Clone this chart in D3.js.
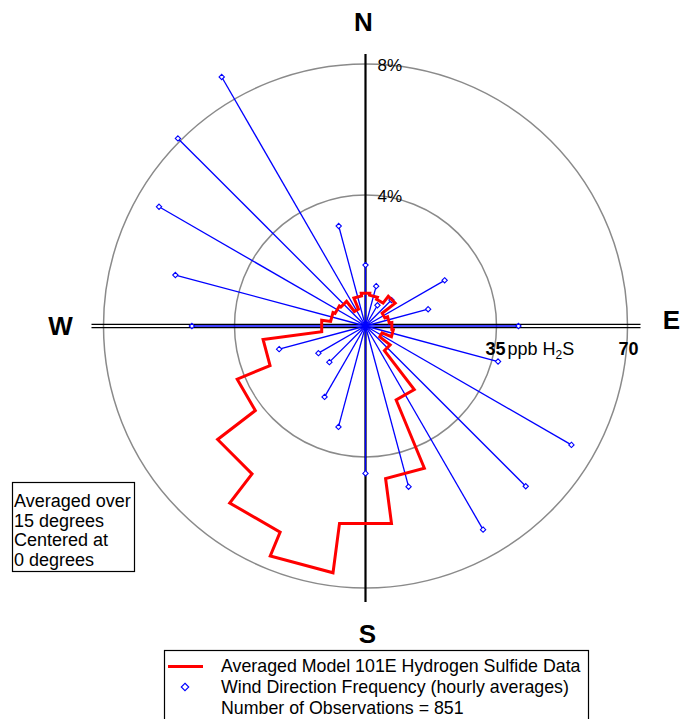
<!DOCTYPE html>
<html>
<head>
<meta charset="utf-8">
<script src="https://cdn.jsdelivr.net/npm/d3@7"></script>
<style>
  html, body { margin: 0; padding: 0; background: #fff; }
  svg { display: block; font-family: "Liberation Sans", Arial, sans-serif; }
</style>
</head>
<body>
<svg id="chart" width="680" height="719"></svg>
<script>
// Wind direction sectors (degrees, clockwise from north), 15-degree bins centred at 0
const directions = [0, 15, 30, 45, 60, 75, 90, 105, 120, 135, 150, 165,
                    180, 195, 210, 225, 240, 255, 270, 285, 300, 315, 330, 345];
// Frequency of hourly wind direction per sector (% of observations)
const windFrequency = [1.86, 1.26, 0.73, 1.12, 2.79, 1.98, 4.67, 4.19, 7.26, 6.92, 7.18, 5.08,
                       4.50, 3.19, 2.50, 1.56, 1.66, 2.73, 5.30, 6.01, 7.28, 8.10, 8.78, 3.16];
// Averaged hydrogen sulfide concentration per sector (ppb)
const h2sPpb = [8.8, 8.3, 7.7, 10.0, 5.6, 6.4, 7.1, 7.5, 4.8, 8.3, 21.4, 41.1,
                53.2, 66.5, 59.6, 49.8, 37.1, 27.6, 11.8, 9.4, 8.8, 8.3, 4.9, 8.1];
// Rings: percentage ticks and matching ppb ticks
const pctTicks = [4, 8];
const ppbTicks = [35, 70];
const compass = [
  { label: "N", angle: 0 }, { label: "E", angle: 90 },
  { label: "S", angle: 180 }, { label: "W", angle: 270 }
];
const sectorWidth = 15;
const observations = 851;

const svg = d3.select("#chart");
const cx = 365.5, cy = 326, R = 262;

const rPct = d3.scaleLinear().domain([0, 8]).range([0, R]);
const rPpb = d3.scaleLinear().domain([0, 70]).range([0, R]);
const rad = d => d * Math.PI / 180;

const g = svg.append("g").attr("transform", `translate(${cx},${cy})`);

// Range rings
g.selectAll("circle.ring").data(pctTicks).join("circle")
  .attr("class", "ring")
  .attr("r", d => rPct(d))
  .attr("fill", "none")
  .attr("stroke", "#8a8a8a")
  .attr("stroke-width", 1.5);

// Axes: single vertical line, double horizontal line
g.append("line").attr("x1", 0).attr("x2", 0).attr("y1", -272).attr("y2", 276)
  .attr("stroke", "#000").attr("stroke-width", 2.2);
[-1.6, 1.6].forEach(off => {
  g.append("line").attr("x1", -274).attr("x2", 275).attr("y1", off).attr("y2", off)
    .attr("stroke", "#000").attr("stroke-width", 1.3);
});

// Wind direction frequency rays
const rays = directions.map((d, i) => ({ dir: d, v: windFrequency[i] }));
const px = (a, r) => r * Math.sin(rad(a));
const py = (a, r) => -r * Math.cos(rad(a));

g.selectAll("line.ray").data(rays).join("line")
  .attr("class", "ray")
  .attr("x1", 0).attr("y1", 0)
  .attr("x2", d => px(d.dir, rPct(d.v)))
  .attr("y2", d => py(d.dir, rPct(d.v)))
  .attr("stroke", "#0000ff")
  .attr("stroke-width", 1.3);

const diamond = d3.symbol().type(d3.symbolDiamond2).size(18);
g.selectAll("path.tip").data(rays).join("path")
  .attr("class", "tip")
  .attr("d", diamond)
  .attr("transform", d => `translate(${px(d.dir, rPct(d.v))},${py(d.dir, rPct(d.v))})`)
  .attr("fill", "#fff")
  .attr("stroke", "#0000ff")
  .attr("stroke-width", 1.1);

// H2S sector outline: each sector drawn as a chord across its 15-degree span
const outline = [];
directions.forEach((d, i) => {
  outline.push([rad(d - sectorWidth / 2), rPpb(h2sPpb[i])]);
  outline.push([rad(d + sectorWidth / 2), rPpb(h2sPpb[i])]);
});
const radialLine = d3.lineRadial().angle(d => d[0]).radius(d => d[1]).curve(d3.curveLinearClosed);
g.append("path")
  .attr("d", radialLine(outline))
  .attr("fill", "none")
  .attr("stroke", "#ff0000")
  .attr("stroke-width", 3)
  .attr("stroke-linejoin", "miter");

// Percentage labels on the rings
g.selectAll("text.pct").data(pctTicks).join("text")
  .attr("class", "pct")
  .attr("x", 12)
  .attr("y", d => -rPct(d) + 3)
  .attr("dominant-baseline", "middle")
  .attr("font-size", 17)
  .text(d => d + "%");

// ppb labels along the east axis
const ppbLabel = g.append("text").attr("x", rPpb(ppbTicks[0]) - 11).attr("y", 29).attr("font-size", 18);
ppbLabel.append("tspan").attr("font-weight", "bold").text(ppbTicks[0]);
ppbLabel.append("tspan").attr("dx", 2).text("ppb H");
ppbLabel.append("tspan").attr("font-size", 12).attr("dy", 4).text("2");
ppbLabel.append("tspan").attr("font-size", 18).attr("dy", -4).text("S");
g.append("text").attr("x", rPpb(ppbTicks[1]) - 9).attr("y", 29)
  .attr("font-size", 18).attr("font-weight", "bold").text(ppbTicks[1]);

// Compass labels
const compassPos = { N: [-2, -304], E: [306, -6], S: [2, 308], W: [-305, 0] };
g.selectAll("text.compass").data(compass).join("text")
  .attr("class", "compass")
  .attr("x", d => compassPos[d.label][0])
  .attr("y", d => compassPos[d.label][1])
  .attr("text-anchor", "middle")
  .attr("dominant-baseline", "central")
  .attr("font-size", 26)
  .attr("font-weight", "bold")
  .text(d => d.label);

// Averaging note box
const note = ["Averaged over", "15 degrees", "Centered at", "0 degrees"];
svg.append("rect").attr("x", 12.5).attr("y", 482.5).attr("width", 122).attr("height", 89)
  .attr("fill", "#fff").attr("stroke", "#000").attr("stroke-width", 1.2);
svg.selectAll("text.note").data(note).join("text")
  .attr("class", "note")
  .attr("x", 14)
  .attr("y", (d, i) => 501 + i * 19.7)
  .attr("dominant-baseline", "central")
  .attr("font-size", 18)
  .text(d => d);

// Legend
const legend = svg.append("g");
legend.append("rect").attr("x", 164.5).attr("y", 650.5).attr("width", 424).attr("height", 80)
  .attr("fill", "#fff").attr("stroke", "#000").attr("stroke-width", 1.2);
legend.append("line").attr("x1", 168).attr("x2", 203).attr("y1", 666.5).attr("y2", 666.5)
  .attr("stroke", "#ff0000").attr("stroke-width", 3);
legend.append("path").attr("d", d3.symbol().type(d3.symbolDiamond2).size(36)())
  .attr("transform", "translate(185,687)")
  .attr("fill", "#fff").attr("stroke", "#0000ff").attr("stroke-width", 1.1);
const legendText = [
  "Averaged Model 101E Hydrogen Sulfide Data",
  "Wind Direction Frequency (hourly averages)",
  "Number of Observations = " + observations
];
legend.selectAll("text").data(legendText).join("text")
  .attr("x", 221)
  .attr("y", (d, i) => 666 + i * 21)
  .attr("dominant-baseline", "central")
  .attr("font-size", 17.8)
  .text(d => d);
</script>
</body>
</html>
